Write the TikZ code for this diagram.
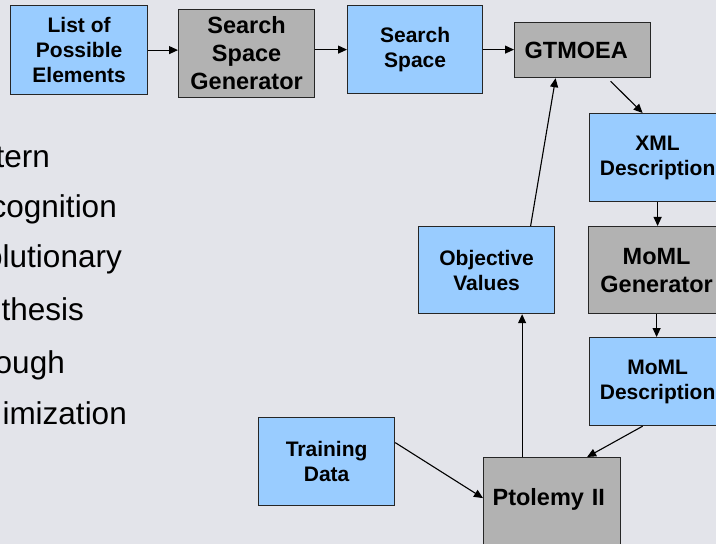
\documentclass[tikz,border=0pt]{standalone}
\usepackage{fontspec}
\setmainfont{Liberation Sans}
\usetikzlibrary{arrows.meta}
\definecolor{slidebg}{RGB}{227,228,234}
\definecolor{boxblue}{RGB}{153,204,255}
\definecolor{boxgray}{RGB}{178,178,178}
\begin{document}
\begin{tikzpicture}[x=1bp,y=-1bp,
  block/.style={draw=black!85,line width=1.2bp,anchor=north west,inner sep=0pt,
    align=center,minimum width=136bp,minimum height=88bp},
  bluebox/.style={block,fill=boxblue,font=\fontsize{21bp}{25bp}\selectfont\bfseries},
  graybox/.style={block,fill=boxgray,font=\fontsize{23.5bp}{28bp}\selectfont\bfseries},
  flow/.style={line width=1.1bp,-{Triangle[length=9bp,width=8bp]}},
  bullet/.style={anchor=base east,inner sep=0pt,font=\fontsize{31.5bp}{36bp}\selectfont}]
  % Slide background
  \useasboundingbox (0,0) rectangle (716,544);
  \fill[slidebg] (0,0) rectangle (716,544);
  \clip (0,0) rectangle (716,544);
  % Bullet text cut off at the left edge
  \foreach \txt/\xr/\yb [count=\k] in {tern/50/168,cognition/117/218,olutionary/122/268,
      thesis/84/320,ough/65/373,imization/127/424}
    \node[bullet] (line\k) at (\xr,\yb) {\txt};
  % Top row
  \node[bluebox,minimum width=137bp,minimum height=89bp] (elements) at (10,5) {List of\\Possible\\Elements};
  \node[graybox] (ssgen) at (178,9) {Search\\Space\\Generator};
  \node[bluebox,minimum width=135bp] (sspace) at (347,5) {Search\\Space};
  \node[graybox,minimum height=55bp,text width=116bp,inner xsep=10bp,align=left] (gtmoea) at (514,22) {GTMOEA};
  % Right column
  \node[bluebox] (xmldesc) at (589,113) {XML\\Description};
  \node[graybox,minimum height=87bp] (momlgen) at (588,226) {MoML\\Generator};
  \node[bluebox] (momldesc) at (589,337) {MoML\\Description};
  % Middle and bottom
  \node[bluebox,minimum height=87bp] (objvalues) at (418,226) {Objective\\Values};
  \node[bluebox] (training) at (258,417) {Training\\Data};
  \node[graybox,minimum width=137bp,minimum height=103bp,text width=119bp,inner xsep=9bp,
    align=left,text depth=24bp] (ptolemy) at (483,457) {Ptolemy II};
  % Connectors
  \draw[flow] (elements.east) -- (elements.east -| ssgen.west);
  \draw[flow] (ssgen.east |- sspace.west) -- (sspace.west);
  \draw[flow] (sspace.east) -- (sspace.east -| gtmoea.west);
  \draw[flow] ([xshift=28bp,yshift=-3bp]gtmoea.south) -- ([xshift=-15bp]xmldesc.north);
  \draw[flow] (xmldesc.south) -- (xmldesc.south |- momlgen.north);
  \draw[flow] (momlgen.south) -- (momlgen.south |- momldesc.north);
  \draw[flow] ([xshift=-15bp]momldesc.south) -- ([xshift=35bp]ptolemy.north);
  \draw[flow] ([yshift=19bp]training.east) -- ([yshift=11bp]ptolemy.west);
  \draw[flow] ([xshift=-30bp]ptolemy.north) -- ([xshift=-30bp]ptolemy.north |- objvalues.south);
  \draw[flow] ([xshift=44bp]objvalues.north) -- ([xshift=-27bp]gtmoea.south);
\end{tikzpicture}
\end{document}
